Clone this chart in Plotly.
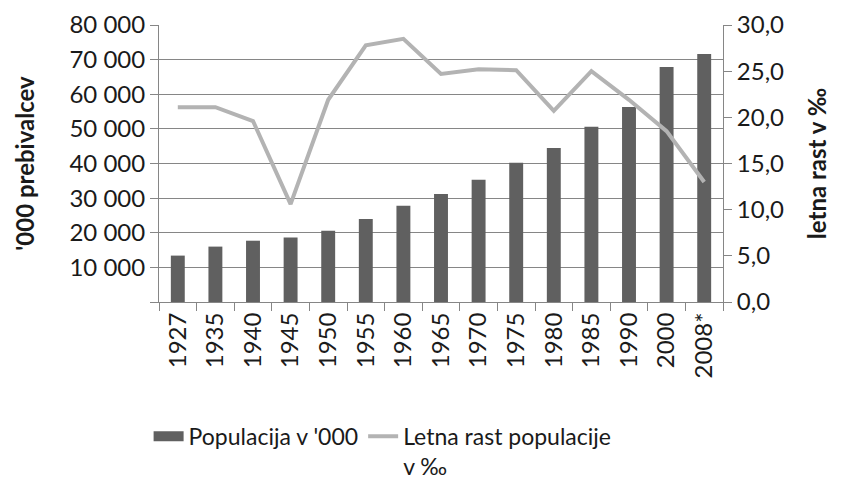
import plotly.graph_objects as go

years = ["1927", "1935", "1940", "1945", "1950", "1955", "1960", "1965",
         "1970", "1975", "1980", "1985", "1990", "2000", "2008*"]
population = [13400, 16000, 17700, 18600, 20600, 24000, 27800, 31200,
              35300, 40200, 44500, 50600, 56300, 67900, 71600]
growth = [21.1, 21.1, 19.6, 10.6, 21.9, 27.8, 28.5, 24.7,
          25.2, 25.1, 20.7, 25.0, 21.9, 18.5, 13.0]

left_tickvals = [0, 10000, 20000, 30000, 40000, 50000, 60000, 70000, 80000]
left_ticktext = ["", "10 000", "20 000", "30 000", "40 000", "50 000",
                 "60 000", "70 000", "80 000"]
right_tickvals = [0, 5, 10, 15, 20, 25, 30]
right_ticktext = ["0,0", "5,0", "10,0", "15,0", "20,0", "25,0", "30,0"]

FONT = "Lato, Liberation Sans, sans-serif"
AXC = "#868686"
FS = 24

fig = go.Figure()
fig.add_trace(go.Bar(x=years, y=population, name="Populacija v '000",
                     marker=dict(color="#606060", line=dict(width=0)),
                     yaxis="y", showlegend=False))
# legend proxy giving the wide rectangular swatch of the bar series
fig.add_trace(go.Scatter(x=[None], y=[None], name="Populacija v '000",
                         mode="lines", line=dict(color="#606060", width=12),
                         yaxis="y", showlegend=True))
fig.add_trace(go.Scatter(x=years, y=growth, name="Letna rast populacije<br>v ‰",
                         mode="lines", line=dict(color="#b3b3b3", width=4),
                         yaxis="y2"))

fig.update_layout(
    width=830, height=475,
    margin=dict(l=151, r=115, t=17, b=181, autoexpand=False),
    paper_bgcolor="white", plot_bgcolor="white",
    font=dict(family=FONT, size=FS, color="#1a1a1a"),
    bargap=0.63,
    showlegend=True,
    legend=dict(orientation="h", xref="container", yref="container",
                x=0.1694, y=0.1434, xanchor="left", yanchor="top",
                font=dict(size=23), valign="top", traceorder="normal"),
    xaxis=dict(type="category", showline=True, linecolor=AXC, linewidth=1,
               ticks="outside", tickson="boundaries", ticklen=8, tickcolor=AXC,
               tickangle=-90, showgrid=False, zeroline=False),
    yaxis=dict(range=[0, 80000], tickvals=left_tickvals, ticktext=left_ticktext,
               showgrid=True, gridcolor=AXC, gridwidth=1,
               showline=True, linecolor=AXC, ticks="outside", ticklen=8,
               tickcolor=AXC, zeroline=False,
               title=dict(text="'000 prebivalcev", font=dict(size=FS, weight="bold"),
                          standoff=28)),
    yaxis2=dict(range=[0, 30], tickvals=right_tickvals, ticktext=right_ticktext,
                overlaying="y", side="right", showgrid=False,
                showline=True, linecolor=AXC, ticks="outside", ticklen=8,
                tickcolor=AXC, zeroline=False,
                title=dict(text="letna rast v ‰", font=dict(size=FS, weight="bold"),
                           standoff=26)),
)

fig.write_html("out.html")
